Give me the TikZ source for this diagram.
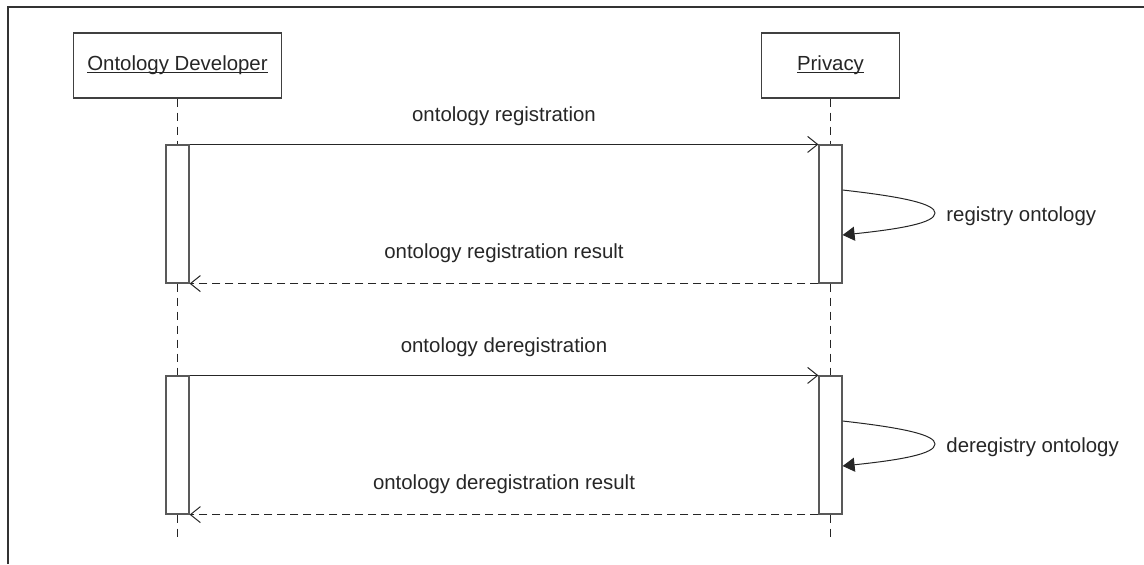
\documentclass[tikz,border=0pt]{standalone}
\usepackage{fontspec}
\setmainfont{Liberation Sans}
\usetikzlibrary{arrows.meta}

% underline that sits just under the baseline
\newcommand{\actorname}[1]{\setbox0\hbox{#1}\rlap{\rule[-1.3pt]{\wd0}{0.5pt}}\box0}

\tikzset{
  actor/.style={draw=black!75, line width=0.6pt, minimum height=32.5pt, inner sep=0pt,
    font=\fontsize{10.2}{12}\selectfont, text=black!85},
  act/.style={draw=black!65, fill=white, line width=0.6pt, minimum width=11.5pt,
    minimum height=69pt, inner sep=0pt},
  lifeline/.style={draw=black!85, line width=0.5pt, dash pattern=on 4pt off 3pt},
  msg/.style={draw=black!85, line width=0.5pt, -{Straight Barb[length=5pt,width=8pt]}},
  reply/.style={msg, dash pattern=on 4pt off 2.5pt},
  selfcall/.style={draw=black!85, line width=0.5pt, -{Triangle[length=6pt,width=7pt]}},
  lbl/.style={font=\fontsize{10.2}{12}\selectfont, text=black!85, inner sep=0pt},
}

\begin{document}
\begin{tikzpicture}[x=0.5pt,y=-0.5pt]
  \useasboundingbox (0,0) rectangle (1144,564);
  % frame
  \draw[black!80, line width=0.7pt] (8,564) -- (8,7) -- (1144,7);

  % the two participants
  \node[actor, minimum width=104pt] (dev) at (177.5,65.5) {\actorname{Ontology Developer}};
  \node[actor, minimum width=69pt] (priv) at (830.5,65.5) {\actorname{Privacy}};

  \foreach \y/\what/\self/\i in {0/registration/registry/1, 231/deregistration/deregistry/2} {
    % activation bars
    \node[act] (dev\i) at (177.5,214+\y) {};
    \node[act] (priv\i) at (830.5,214+\y) {};

    % request
    \draw[msg] (dev\i.north east) -- (priv\i.north west)
      node[lbl, midway, anchor=base, yshift=11.5pt] (req\i) {ontology \what};

    % call to itself
    \coordinate (loop\i) at (935,213+\y);
    \draw[selfcall] ([yshift=12pt]priv\i.east) .. controls (905,197+\y) and (935,204+\y) .. (loop\i)
      .. controls (935,223+\y) and (900,229+\y) .. ([yshift=-10.5pt]priv\i.east);
    \node[lbl, anchor=base west] (own\i) at (946,221+\y) {\self\ ontology};

    % reply
    \draw[reply] (priv\i.south west) -- (dev\i.south east)
      node[lbl, midway, anchor=base, yshift=12.5pt] (res\i) {ontology \what\ result};
  }

  % lifelines
  \coordinate (devend) at (177.5,541);
  \coordinate (privend) at (830.5,541);
  \draw[lifeline] (dev.south) -- (dev1.north) (dev1.south) -- (dev2.north) (dev2.south) -- (devend);
  \draw[lifeline] (priv.south) -- (priv1.north) (priv1.south) -- (priv2.north) (priv2.south) -- (privend);
\end{tikzpicture}
\end{document}
